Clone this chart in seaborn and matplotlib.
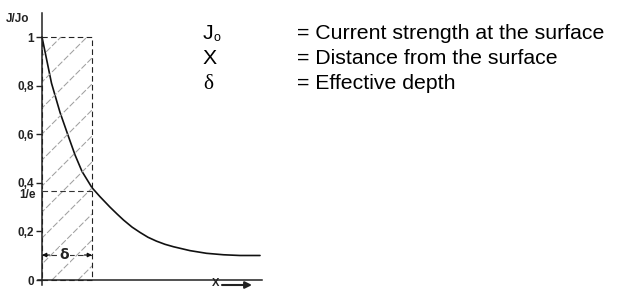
import numpy as np
import pandas as pd
import matplotlib
matplotlib.use("Agg")
import matplotlib.pyplot as plt
import seaborn as sns
from matplotlib.patches import Rectangle

# distance from the surface (in units of delta) and relative current J/Jo
x_delta = [0, 0.1, 0.19, 0.36, 0.53, 0.66, 0.8, 1.0, 1.16, 1.36, 1.5, 1.63,
           1.8, 1.96, 2.12, 2.29, 2.46, 2.63, 2.96, 3.29, 3.63, 3.96, 4.36]
j_ratio = [1.0, 0.9, 0.81, 0.69, 0.59, 0.515, 0.447, 0.38, 0.343, 0.30, 0.272,
           0.247, 0.218, 0.196, 0.176, 0.16, 0.147, 0.137, 0.121, 0.110, 0.104,
           0.101, 0.101]

ytick_values = [0, 0.2, 0.4, 0.6, 0.8, 1]
ytick_labels = ["0", "0,2", "0,4", "0,6", "0,8", "1"]
inv_e = 0.368
delta_level = 0.103

legend_symbols = ["J", "X", "\u03b4"]
legend_texts = ["= Current strength at the surface",
                "= Distance from the surface",
                "= Effective depth"]

df = pd.DataFrame({"x": x_delta, "j": j_ratio})

sns.set_style("ticks")
plt.rcParams["font.family"] = ["Liberation Sans", "DejaVu Sans"]

W, H = 621, 289
fig = plt.figure(figsize=(W / 100, H / 100), dpi=100)
ax = fig.add_axes([38 / W, 1 - 284.9 / H, 224 / W, (284.9 - 12.7) / H])

# curve
sns.lineplot(data=df, x="x", y="j", ax=ax, color="#111111", linewidth=1.2)

# hatched delta region
rect = Rectangle((0, 0), 1, 1, fill=False, edgecolor="#222222", linewidth=0.8,
                 linestyle=(0, (5, 3)))
ax.add_patch(rect)
clip = Rectangle((0, 0), 1, 1, transform=ax.transData, visible=False)
ax.add_patch(clip)
slope = 50 / 243
for x0 in np.arange(-5.0, 1.0, 0.52):
    line, = ax.plot([x0, x0 + 6], [0, 6 * slope], color="#a0a0a0", lw=0.75,
                    linestyle=(0, (6, 2)))
    line.set_clip_path(clip)

# 1/e dashed line
ax.plot([0, 1], [inv_e, inv_e], color="#333333", lw=0.8, linestyle=(0, (5, 3)))

# delta dimension
ax.plot([0, 1], [delta_level, delta_level], color="#333333", lw=0.8,
        linestyle=(0, (5, 3)))
ax.annotate("", xy=(0, delta_level), xytext=(0.15, delta_level),
            arrowprops=dict(arrowstyle="-|>", color="#111111", lw=0.9,
                            mutation_scale=6, shrinkA=0, shrinkB=0))
ax.annotate("", xy=(1, delta_level), xytext=(0.85, delta_level),
            arrowprops=dict(arrowstyle="-|>", color="#111111", lw=0.9,
                            mutation_scale=6, shrinkA=0, shrinkB=0))
ax.text(0.45, delta_level, "\u03b4", ha="center", va="center", fontsize=10,
        fontweight="bold", family="DejaVu Sans", color="#222222",
        bbox=dict(facecolor="white", edgecolor="none", pad=0.5))

# axes styling
ax.set_xlim(-0.08, 4.4)
ax.set_ylim(-0.02, 1.1)
ax.spines["left"].set_position(("data", 0))
ax.spines["bottom"].set_position(("data", 0))
ax.spines["top"].set_visible(False)
ax.spines["right"].set_visible(False)
for s in ("left", "bottom"):
    ax.spines[s].set_linewidth(1.1)
    ax.spines[s].set_color("#222222")
ax.set_xticks([])
ax.set_yticks(ytick_values)
ax.set_yticklabels(ytick_labels, fontsize=8.5, fontweight="bold", color="#222222")
ax.tick_params(axis="y", length=4, width=1, color="#222222", pad=1.5)
ax.set_xlabel("")
ax.set_ylabel("")
ax.text(-0.13, inv_e - 0.018, "1/e", ha="right", va="center", fontsize=8.5,
        fontweight="bold", color="#222222")

fig.text(6 / W, 1 - 19 / H, "J/Jo", ha="left", va="center", fontsize=8.5,
         fontweight="bold", color="#222222")

# x label at the bottom edge
fig.text(212 / W, 0.5 / H, "X", ha="left", va="bottom", fontsize=8,
         fontweight="bold", color="#222222")
ax.annotate("", xy=(252, 4), xytext=(222, 4), xycoords="figure pixels",
            textcoords="figure pixels", annotation_clip=False,
            arrowprops=dict(arrowstyle="-|>", color="#222222", lw=1.5,
                            mutation_scale=10, shrinkA=0, shrinkB=0))

# legend text block
baselines = [39, 64, 89]
for sym, txt, b in zip(legend_symbols, legend_texts, baselines):
    fam = "Liberation Serif" if sym == "\u03b4" else "Liberation Sans"
    fig.text(203 / W, 1 - b / H, sym, ha="left", va="baseline", fontsize=15.3,
             family=fam, color="black")
    fig.text(297 / W, 1 - b / H, txt, ha="left", va="baseline", fontsize=15.3,
             color="black")
fig.text(213.5 / W, 1 - 41 / H, "o", ha="left", va="baseline", fontsize=9,
         color="black")

fig.savefig("out.png", dpi=100)
